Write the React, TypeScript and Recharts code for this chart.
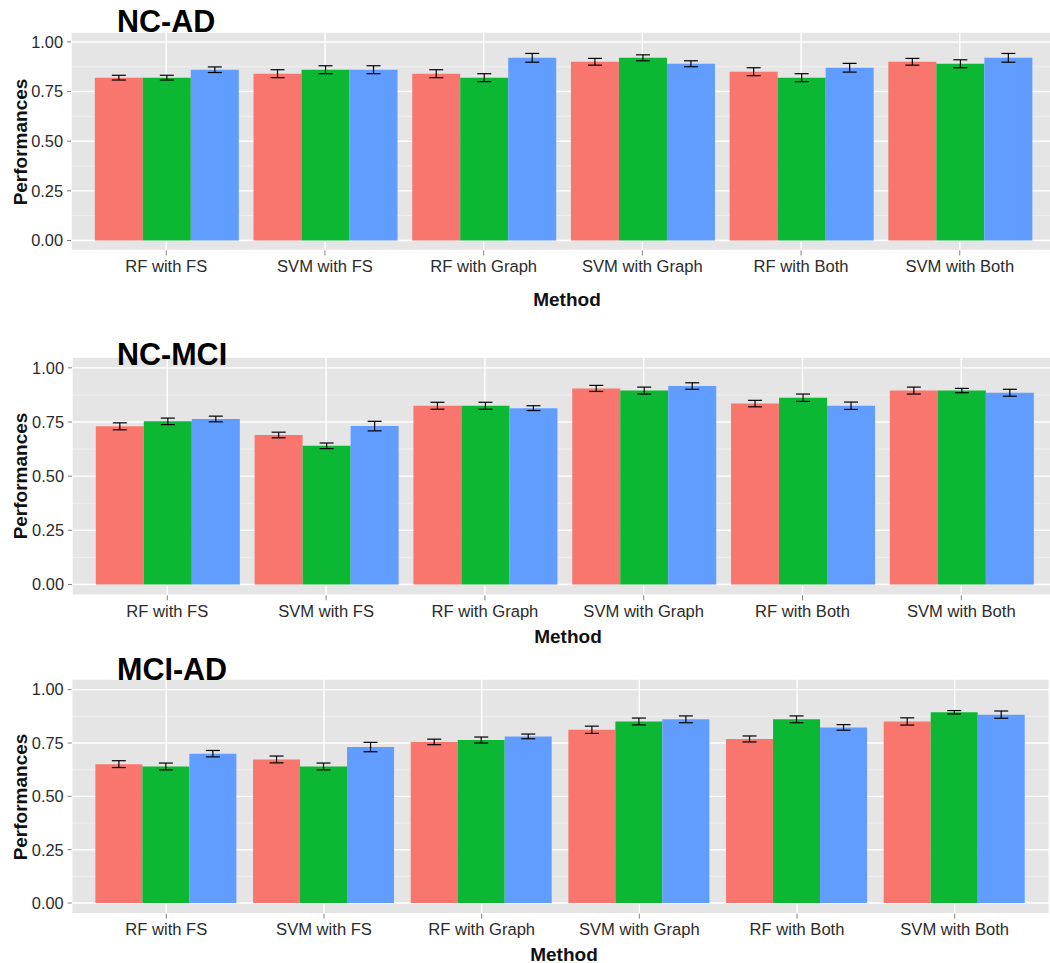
import { BarChart, Bar, XAxis, YAxis, CartesianGrid, ErrorBar } from 'recharts';

const categories = [
  'RF with FS',
  'SVM with FS',
  'RF with Graph',
  'SVM with Graph',
  'RF with Both',
  'SVM with Both',
];
const yTicks = [0, 0.25, 0.5, 0.75, 1];
const yMinor = [0.125, 0.375, 0.625, 0.875];

// NC-AD
const ncAdRed = [0.82, 0.84, 0.84, 0.9, 0.85, 0.9];
const ncAdRedErr = [0.012, 0.02, 0.02, 0.017, 0.02, 0.017];
const ncAdGreen = [0.82, 0.86, 0.82, 0.92, 0.82, 0.89];
const ncAdGreenErr = [0.012, 0.02, 0.02, 0.015, 0.02, 0.02];
const ncAdBlue = [0.86, 0.86, 0.92, 0.89, 0.87, 0.92];
const ncAdBlueErr = [0.014, 0.02, 0.022, 0.015, 0.022, 0.022];

// NC-MCI
const ncMciRed = [0.73, 0.69, 0.825, 0.905, 0.835, 0.895];
const ncMciRedErr = [0.016, 0.013, 0.016, 0.014, 0.015, 0.016];
const ncMciGreen = [0.753, 0.64, 0.825, 0.895, 0.862, 0.895];
const ncMciGreenErr = [0.015, 0.013, 0.016, 0.016, 0.017, 0.01];
const ncMciBlue = [0.764, 0.731, 0.814, 0.916, 0.825, 0.885];
const ncMciBlueErr = [0.013, 0.022, 0.011, 0.015, 0.017, 0.016];

// MCI-AD
const mciAdRed = [0.651, 0.673, 0.755, 0.812, 0.769, 0.851];
const mciAdRedErr = [0.016, 0.016, 0.013, 0.017, 0.014, 0.017];
const mciAdGreen = [0.64, 0.64, 0.764, 0.851, 0.861, 0.894];
const mciAdGreenErr = [0.016, 0.016, 0.014, 0.016, 0.016, 0.008];
const mciAdBlue = [0.7, 0.731, 0.781, 0.861, 0.823, 0.883];
const mciAdBlueErr = [0.015, 0.022, 0.011, 0.016, 0.013, 0.017];

const buildRows = (
  red: number[],
  redErr: number[],
  green: number[],
  greenErr: number[],
  blue: number[],
  blueErr: number[]
) =>
  categories.map((method, i) => ({
    method,
    red: red[i],
    redErr: redErr[i],
    green: green[i],
    greenErr: greenErr[i],
    blue: blue[i],
    blueErr: blueErr[i],
  }));

interface PanelProps {
  title: string;
  rows: ReturnType<typeof buildRows>;
  top: number;
  plotH: number;
  left: number;
  right: number;
  titleBaseline: number;
  yLabelY: number;
  methodX: number;
  methodY: number;
}

function Panel({ title, rows, top, plotH, left, right, titleBaseline, yLabelY, methodX, methodY }: PanelProps) {
  const pad = ((right - left) / 6.2) * 0.1;
  const axisH = 40;
  return (
    <>
      <div style={{ position: 'absolute', left: 0, top: top - 5 }}>
        <BarChart
          width={right}
          height={5 + plotH + axisH}
          data={rows}
          margin={{ top: 5, right: 0, bottom: 0, left: 0 }}
          barCategoryGap="5%"
          barGap={0}
        >
          <CartesianGrid horizontalValues={yMinor} vertical={false} fill="#E5E5E5" fillOpacity={1} stroke="#F2F2F2" strokeWidth={0.8} />
          <CartesianGrid stroke="#FFFFFF" strokeWidth={1.4} />
          <XAxis
            dataKey="method"
            padding={{ left: pad, right: pad }}
            height={axisH}
            interval={0}
            axisLine={false}
            tickSize={5}
            tickMargin={5}
            tickLine={{ stroke: '#7f7f7f' }}
            tick={{ fill: '#2b2b2b', fontSize: 16.6 }}
          />
          <YAxis
            type="number"
            width={left}
            domain={[-0.05, 1.05]}
            ticks={yTicks}
            allowDataOverflow
            axisLine={false}
            tickSize={4}
            tickMargin={4}
            tickLine={{ stroke: '#7f7f7f' }}
            tick={{ fill: '#2b2b2b', fontSize: 16.4 }}
            tickFormatter={(v: number) => v.toFixed(2)}
          />
          <Bar dataKey="red" fill="#F8766D" isAnimationActive={false}>
            <ErrorBar dataKey="redErr" width={7} stroke="#000" strokeWidth={1.2} />
          </Bar>
          <Bar dataKey="green" fill="#0BB733" isAnimationActive={false}>
            <ErrorBar dataKey="greenErr" width={7} stroke="#000" strokeWidth={1.2} />
          </Bar>
          <Bar dataKey="blue" fill="#619CFF" isAnimationActive={false}>
            <ErrorBar dataKey="blueErr" width={7} stroke="#000" strokeWidth={1.2} />
          </Bar>
        </BarChart>
      </div>
      <div
        style={{
          position: 'absolute',
          left: 117,
          top: titleBaseline - 0.8465 * 30.5,
          fontSize: 30.5,
          lineHeight: 1,
          fontWeight: 'bold',
          color: '#000',
          whiteSpace: 'nowrap',
        }}
      >
        {title}
      </div>
      <div
        style={{
          position: 'absolute',
          left: 20,
          top: yLabelY,
          transform: 'translate(-50%, -50%) rotate(-90deg)',
          fontSize: 19,
          lineHeight: 1,
          fontWeight: 'bold',
          color: '#111',
          whiteSpace: 'nowrap',
        }}
      >
        Performances
      </div>
      <div
        style={{
          position: 'absolute',
          left: methodX,
          top: methodY,
          transform: 'translate(-50%, -50%)',
          fontSize: 19,
          lineHeight: 1,
          fontWeight: 'bold',
          color: '#111',
          whiteSpace: 'nowrap',
        }}
      >
        Method
      </div>
    </>
  );
}

export default function App() {
  return (
    <div
      style={{
        position: 'absolute',
        left: 0,
        top: 0,
        width: 1050,
        height: 963,
        overflow: 'hidden',
        background: '#fff',
        fontFamily: '"Liberation Sans", Arial, sans-serif',
      }}
    >
      <Panel
        title="NC-AD"
        rows={buildRows(ncAdRed, ncAdRedErr, ncAdGreen, ncAdGreenErr, ncAdBlue, ncAdBlueErr)}
        top={32.3}
        plotH={218.4}
        left={71}
        right={1055}
        titleBaseline={31.8}
        yLabelY={142}
        methodX={567}
        methodY={299}
      />
      <Panel
        title="NC-MCI"
        rows={buildRows(ncMciRed, ncMciRedErr, ncMciGreen, ncMciGreenErr, ncMciBlue, ncMciBlueErr)}
        top={356.7}
        plotH={238.3}
        left={72}
        right={1056.6}
        titleBaseline={365}
        yLabelY={476}
        methodX={568}
        methodY={636}
      />
      <Panel
        title="MCI-AD"
        rows={buildRows(mciAdRed, mciAdRedErr, mciAdGreen, mciAdGreenErr, mciAdBlue, mciAdBlueErr)}
        top={679.3}
        plotH={234.7}
        left={71.7}
        right={1049.3}
        titleBaseline={680}
        yLabelY={797}
        methodX={564}
        methodY={953.5}
      />
    </div>
  );
}
